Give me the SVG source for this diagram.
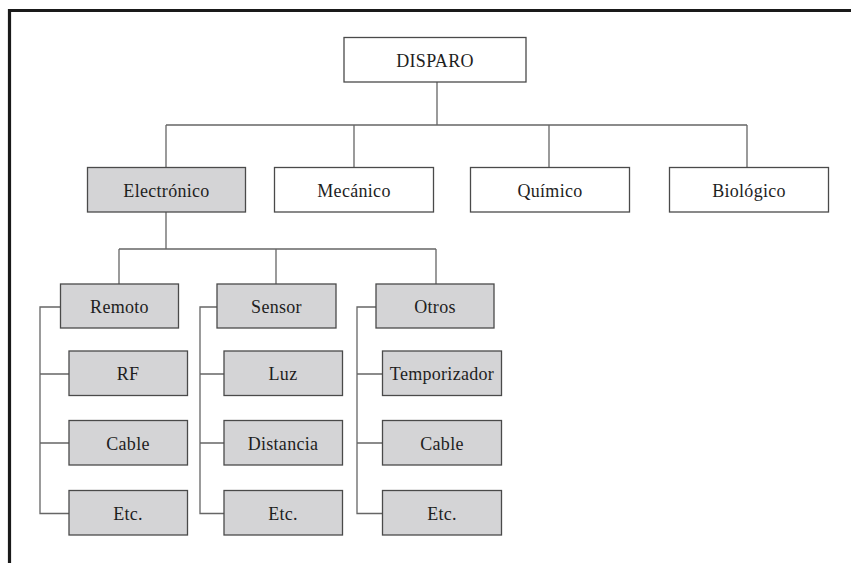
<svg xmlns="http://www.w3.org/2000/svg" width="851" height="563" viewBox="0 0 851 563">
<style>
.box{stroke:#4a4a4a;stroke-width:1.3}
.w{fill:#ffffff}
.g{fill:#d4d4d6}
.lbl{font-family:'Liberation Serif','Times New Roman',serif;font-size:18px;fill:#1e1e1e;text-anchor:middle;letter-spacing:0.3px}
.con{stroke:#666;stroke-width:1.3;fill:none}
.frame{stroke:#1a1a1a;stroke-width:3.2;fill:none}
</style>
<rect x="0" y="0" width="851" height="563" fill="#ffffff"/>
<path class="frame" d="M9.5,563 V10.5 H851"/>
<g id="connectors">
<path class="con" d="M437,82 V125 M166,125 H747 M166,125 V167.5 M354,125 V167.5 M549,125 V167.5 M747,125 V167.5"/>
<path class="con" d="M166,212 V249 M119,249 H436 M119,249 V284 M276,249 V284 M436,249 V284"/>
<path class="con" d="M60.5,307 H40 V513.5 H69 M40,374 H69 M40,443 H69"/>
<path class="con" d="M217,307 H200 V513.5 H224 M200,374 H224 M200,443 H224"/>
<path class="con" d="M376,307 H357 V513.5 H382 M357,374 H382 M357,443 H382"/>
</g>
<g font-family="Liberation Serif, Times New Roman, serif">
<g id="disparo"><rect class="box w" x="344" y="37.5" width="182" height="44.5"/><text class="lbl" x="435" y="66.5">DISPARO</text></g>
<g id="electronico"><rect class="box g" x="87.5" y="167.5" width="158" height="44.5"/><text class="lbl" x="166.5" y="196.5">Electrónico</text></g>
<g id="mecanico"><rect class="box w" x="274.5" y="167.5" width="159" height="44.5"/><text class="lbl" x="354" y="196.5">Mecánico</text></g>
<g id="quimico"><rect class="box w" x="470.5" y="167.5" width="159" height="44.5"/><text class="lbl" x="550" y="196.5">Químico</text></g>
<g id="biologico"><rect class="box w" x="669.5" y="167.5" width="159" height="44.5"/><text class="lbl" x="749" y="196.5">Biológico</text></g>
<g id="remoto"><rect class="box g" x="60.5" y="284" width="118" height="44"/><text class="lbl" x="119.5" y="312.5">Remoto</text></g>
<g id="sensor"><rect class="box g" x="217" y="284" width="119" height="44"/><text class="lbl" x="276.5" y="312.5">Sensor</text></g>
<g id="otros"><rect class="box g" x="376" y="284" width="118" height="44"/><text class="lbl" x="435" y="312.5">Otros</text></g>
<g id="rf"><rect class="box g" x="69" y="351" width="118.5" height="44.5"/><text class="lbl" x="128" y="380">RF</text></g>
<g id="cable1"><rect class="box g" x="69" y="420.5" width="118.5" height="44.5"/><text class="lbl" x="128" y="449.5">Cable</text></g>
<g id="etc1"><rect class="box g" x="69" y="490.5" width="118.5" height="44.5"/><text class="lbl" x="128" y="519.5">Etc.</text></g>
<g id="luz"><rect class="box g" x="224" y="351" width="118.5" height="44.5"/><text class="lbl" x="283" y="380">Luz</text></g>
<g id="distancia"><rect class="box g" x="224" y="420.5" width="118.5" height="44.5"/><text class="lbl" x="283" y="449.5">Distancia</text></g>
<g id="etc2"><rect class="box g" x="224" y="490.5" width="118.5" height="44.5"/><text class="lbl" x="283" y="519.5">Etc.</text></g>
<g id="temporizador"><rect class="box g" x="382.5" y="351" width="119" height="44.5"/><text class="lbl" x="442" y="380">Temporizador</text></g>
<g id="cable2"><rect class="box g" x="382.5" y="420.5" width="119" height="44.5"/><text class="lbl" x="442" y="449.5">Cable</text></g>
<g id="etc3"><rect class="box g" x="382.5" y="490.5" width="119" height="44.5"/><text class="lbl" x="442" y="519.5">Etc.</text></g>
</g>
</svg>
